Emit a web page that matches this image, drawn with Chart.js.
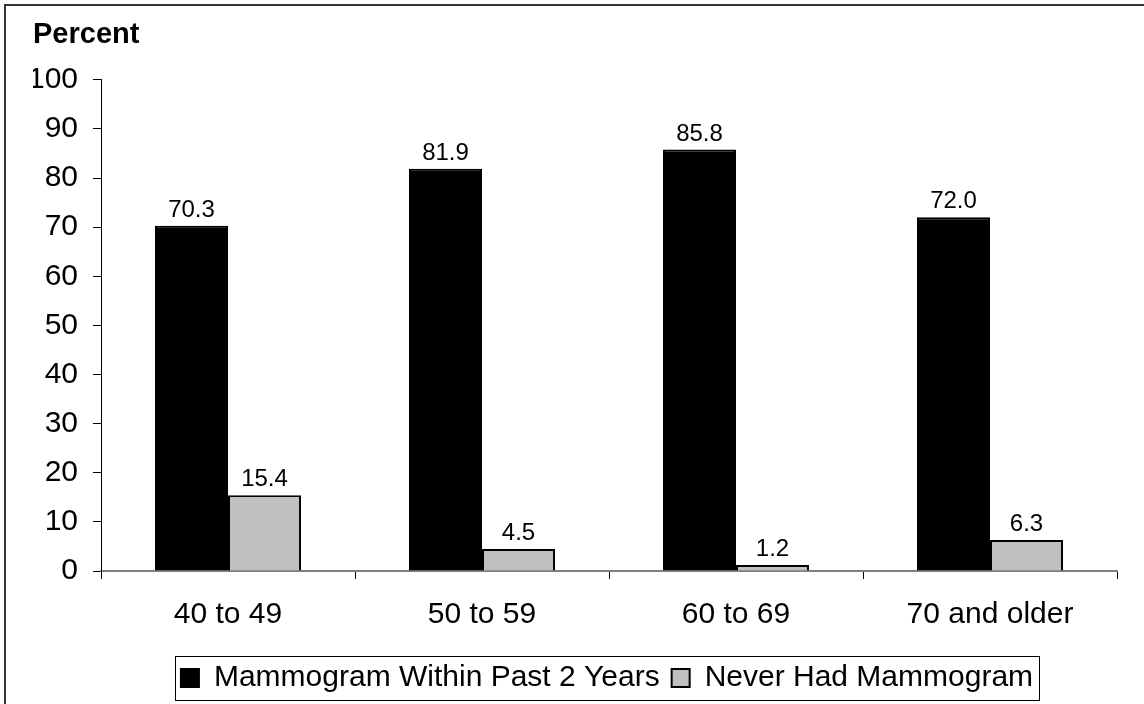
<!DOCTYPE html>
<html>
<head>
<meta charset="utf-8">
<script src="https://cdn.jsdelivr.net/npm/chart.js@4.4.1/dist/chart.umd.min.js"></script>
<style>
  html, body { margin: 0; padding: 0; background: #fff; }
  #wrap { width: 1144px; height: 704px; }
</style>
</head>
<body>
<div id="wrap"><canvas id="myChart" width="1144" height="704"></canvas></div>
<script>
// age groups and the two series
var ageGroups = ["40 to 49", "50 to 59", "60 to 69", "70 and older"];
var withinTwoYears = [70.3, 81.9, 85.8, 72.0];
var neverHad = [15.4, 4.5, 1.2, 6.3];
var yTicks = [0, 10, 20, 30, 40, 50, 60, 70, 80, 90, 100];

var FONT = "'Liberation Sans', Arial, sans-serif";

// value labels over each bar
var valueLabels = {
  id: "valueLabels",
  afterDatasetsDraw: function (chart) {
    var ctx = chart.ctx;
    ctx.save();
    ctx.font = "24px " + FONT;
    ctx.fillStyle = "#000";
    ctx.textAlign = "center";
    ctx.textBaseline = "alphabetic";
    chart.data.datasets.forEach(function (ds, i) {
      chart.getDatasetMeta(i).data.forEach(function (bar, j) {
        ctx.fillText(ds.data[j].toFixed(1), bar.x, bar.y - 9);
      });
    });
    ctx.restore();
  }
};

// legend sits a little right of centre in the original
var legendShift = {
  id: "legendShift",
  beforeDraw: function (chart) {
    var lg = chart.legend;
    if (lg._shifted) return;
    lg._shifted = true;
    lg.left += 32;
    lg.right += 32;
    (lg.legendHitBoxes || []).forEach(function (b) { b.left += 32; });
  }
};

// outer frame and legend box
var frames = {
  id: "frames",
  afterDraw: function (chart) {
    var ctx = chart.ctx;
    ctx.save();
    ctx.strokeStyle = "#333";
    ctx.lineWidth = 2;
    ctx.strokeRect(5, 5, 1200, 800);

    var boxes = chart.legend.legendHitBoxes;
    if (boxes && boxes.length) {
      var left = boxes[0].left, right = 0, top = boxes[0].top, h = boxes[0].height;
      boxes.forEach(function (b) {
        left = Math.min(left, b.left);
        right = Math.max(right, b.left + b.width);
      });
      var cy = top + h / 2;
      ctx.strokeStyle = "#000";
      ctx.lineWidth = 1;
      ctx.strokeRect(Math.round(left - 6) + 0.5, Math.round(cy - 22) + 0.5, Math.round(right - left + 12), 44);
    }
    ctx.restore();
  }
};

var ctx = document.getElementById("myChart").getContext("2d");
var chart = new Chart(ctx, {
  type: "bar",
  data: {
    labels: ageGroups,
    datasets: [
      {
        label: "Mammogram Within Past 2 Years",
        data: withinTwoYears,
        backgroundColor: "#000000",
        borderColor: "#000000",
        borderWidth: 2,
        categoryPercentage: 0.575,
        barPercentage: 1.0
      },
      {
        label: "Never Had Mammogram",
        data: neverHad,
        backgroundColor: "#c0c0c0",
        borderColor: "#000000",
        borderWidth: 2,
        categoryPercentage: 0.575,
        barPercentage: 1.0
      }
    ]
  },
  options: {
    responsive: false,
    animation: false,
    layout: { padding: { left: 33, right: 27, top: 0, bottom: 1 } },
    plugins: {
      title: {
        display: true,
        text: "Percent",
        align: "start",
        color: "#000",
        font: { family: FONT, size: 29, weight: "bold" },
        padding: { top: 18, bottom: 27 }
      },
      legend: {
        position: "bottom",
        labels: {
          color: "#000",
          font: { family: FONT, size: 30 },
          boxWidth: 18,
          boxHeight: 18,
          padding: 12
        }
      },
      tooltip: { enabled: false }
    },
    scales: {
      x: {
        grid: {
          drawOnChartArea: false,
          drawTicks: true,
          tickLength: 8,
          color: "#000",
          offset: true
        },
        border: { color: "#808080", width: 2 },
        ticks: {
          color: "#000",
          font: { family: FONT, size: 30 },
          padding: 18
        }
      },
      y: {
        min: 0,
        max: 100,
        afterBuildTicks: function (scale) {
          scale.ticks = yTicks.map(function (v) { return { value: v }; });
        },
        afterFit: function (scale) { scale.width = 68; },
        grid: {
          drawOnChartArea: false,
          drawTicks: true,
          tickLength: 8,
          color: "#000"
        },
        border: { color: "#000", width: 1 },
        ticks: {
          color: "#000",
          font: { family: FONT, size: 30 },
          padding: 15
        }
      }
    }
  },
  plugins: [valueLabels, legendShift, frames]
});
</script>
</body>
</html>
